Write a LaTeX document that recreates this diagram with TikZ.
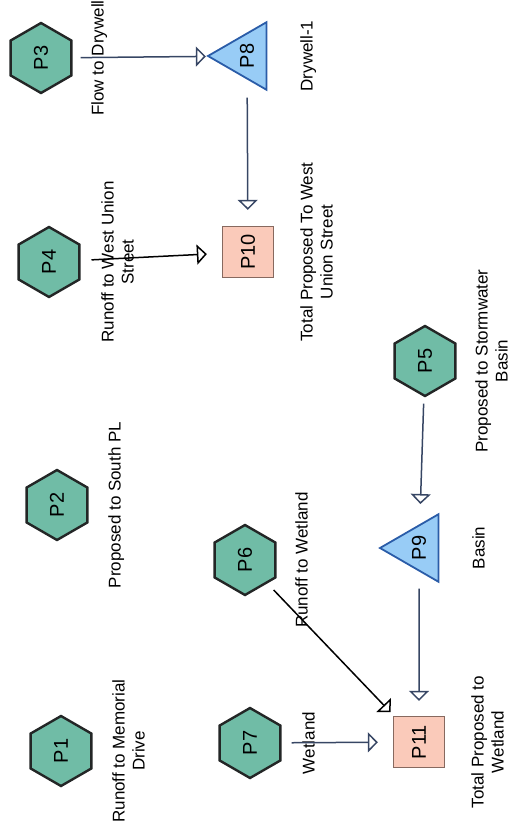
\documentclass[tikz,border=0pt]{standalone}
\usepackage{fontspec}
\setmainfont{Liberation Sans}
\usetikzlibrary{shapes.geometric,arrows.meta}
\definecolor{subfill}{RGB}{112,188,166}
\definecolor{subline}{RGB}{35,38,38}
\definecolor{pondfill}{RGB}{152,204,246}
\definecolor{pondline}{RGB}{42,92,168}
\definecolor{linkfill}{RGB}{250,202,186}
\definecolor{linkline}{RGB}{135,105,95}
\definecolor{flowline}{RGB}{55,70,100}
\begin{document}
\begin{tikzpicture}[x=1pt,y=-1pt,
  subcat/.style={regular polygon,regular polygon sides=6,minimum size=70pt,inner sep=0pt,rotate=90,fill=subfill,draw=subline,line width=2.4pt,font=\fontsize{20}{24}\selectfont},
  pond/.style={regular polygon,regular polygon sides=3,minimum size=78pt,inner sep=0pt,rotate=90,fill=pondfill,draw=pondline,line width=1.8pt,font=\fontsize{20}{24}\selectfont},
  link/.style={rectangle,minimum size=51pt,inner sep=0pt,rotate=90,fill=linkfill,draw=linkline,line width=1.3pt,font=\fontsize{20}{24}\selectfont},
  lbl/.style={rotate=90,anchor=north,inner sep=0pt,align=center,font=\fontsize{17}{20}\selectfont},
  flow/.style={draw=flowline,line width=1.5pt,-{Triangle[open,length=10pt,width=20pt]}}]
\useasboundingbox (0,0) rectangle (510,834);
\node[subcat] (P1) at (61,751) {P1};
\node[subcat] (P2) at (57,505) {P2};
\node[subcat] (P3) at (41,58) {P3};
\node[subcat] (P4) at (49,262) {P4};
\node[subcat] (P5) at (425,361) {P5};
\node[subcat] (P6) at (245,560) {P6};
\node[subcat] (P7) at (250,743) {P7};
\node[pond] (P8) at (247,56) {P8};
\node[pond] (P9) at (419,548) {P9};
\node[link] (P10) at (248,252) {P10};
\node[link] (P11) at (419,742) {P11};
\node[lbl] (lP1) at ([xshift=51pt]P1.center) {Runoff to Memorial\\Drive};
\node[lbl] (lP2) at ([xshift=51pt]P2.center) {Proposed to South PL};
\node[lbl] (lP3) at ([xshift=50pt]P3.center) {Flow to Drywell};
\node[lbl] (lP4) at ([xshift=52pt]P4.center) {Runoff to West Union\\Street};
\node[lbl] (lP5) at ([xshift=50pt]P5.center) {Proposed to Stormwater\\Basin};
\node[lbl] (lP6) at ([xshift=50pt]P6.center) {Runoff to Wetland};
\node[lbl] (lP7) at ([xshift=52pt]P7.center) {Wetland};
\node[lbl] (lP8) at ([xshift=53pt]P8.center) {Drywell-1};
\node[lbl] (lP9) at ([xshift=53pt]P9.center) {Basin};
\node[lbl] (lP10) at ([xshift=52pt]P10.center) {Total Proposed To West\\Union Street};
\node[lbl] (lP11) at ([xshift=52pt]P11.center) {Total Proposed to\\Wetland};
\draw[flow,shorten <=8pt,shorten >=1pt] (P3) -- (P8);
\draw[flow,shorten <=18pt,shorten >=16pt] (P8) -- (P10);
\draw[flow,draw=black,shorten <=11pt,shorten >=15pt] (P4) -- (P10);
\draw[flow,shorten <=7pt,shorten >=20pt] (P5) -- (P9);
\draw[flow,shorten <=17pt,shorten >=15pt] (P9) -- (P11);
\draw[flow,draw=black,shorten <=9pt,shorten >=5pt] (P6) -- (P11);
\draw[flow,shorten <=10pt,shorten >=15pt] (P7) -- (P11);
\end{tikzpicture}
\end{document}
